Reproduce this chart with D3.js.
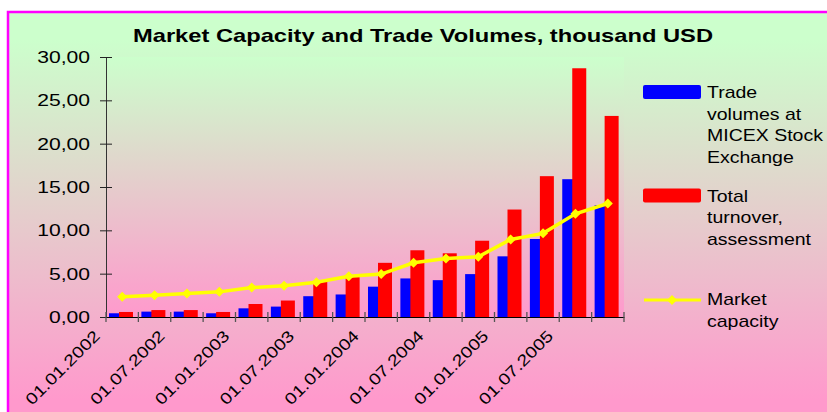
<!DOCTYPE html>
<html>
<head>
<meta charset="utf-8">
<script src="https://cdn.jsdelivr.net/npm/d3@7"></script>
<style>
  body { margin: 0; background: #fff; }
  svg text { font-family: "Liberation Sans", Arial, sans-serif; fill: #000; }
</style>
</head>
<body>
<svg id="chart" width="827" height="412"></svg>
<script>
// quarterly dates, labels shown on every second one
const categories = ['01.01.2002', '01.04.2002', '01.07.2002', '01.10.2002',
    '01.01.2003', '01.04.2003', '01.07.2003', '01.10.2003',
    '01.01.2004', '01.04.2004', '01.07.2004', '01.10.2004',
    '01.01.2005', '01.04.2005', '01.07.2005', '01.10.2005'];
const tradeVolumes = [0.43, 0.62, 0.62, 0.43, 1.0, 1.2, 2.4, 2.6, 3.5, 4.45, 4.25, 4.95, 7.0, 9.0, 15.9, 12.9];
const totalTurnover = [0.58, 0.8, 0.8, 0.58, 1.5, 1.9, 4.1, 4.6, 6.25, 7.7, 7.35, 8.8, 12.4, 16.25, 28.7, 23.2];
const marketCapacity = [2.35, 2.5, 2.7, 2.9, 3.4, 3.6, 4.0, 4.7, 4.95, 6.25, 6.75, 6.95, 8.95, 9.65, 11.9, 13.1];
const yTicks = [0, 5, 10, 15, 20, 25, 30];

const legendItems = [
    { lines: ['Trade', 'volumes at', 'MICEX Stock', 'Exchange'], color: '#0000ff', type: 'bar' },
    { lines: ['Total', 'turnover,', 'assessment'], color: '#ff0000', type: 'bar' },
    { lines: ['Market', 'capacity'], color: '#ffff00', type: 'line' }
];

const svg = d3.select('#chart');
const stretch = 1.32; // text in the picture is drawn wide

// background gradients: one for the whole chart, one for the plot area
const defs = svg.append('defs');
function addGradient(id, y1, y2) {
    const g = defs.append('linearGradient')
        .attr('id', id).attr('gradientUnits', 'userSpaceOnUse')
        .attr('x1', 0).attr('y1', y1).attr('x2', 0).attr('y2', y2);
    g.append('stop').attr('offset', '0%').attr('stop-color', '#ccffcc');
    g.append('stop').attr('offset', '100%').attr('stop-color', '#ff99cc');
}
addGradient('bg', 40, 400);
addGradient('plotbg', 57, 317);

svg.append('rect')
    .attr('x', 8).attr('y', 12)
    .attr('width', 840).attr('height', 420)
    .attr('fill', 'url(#bg)')
    .attr('stroke', '#ff00ff')
    .attr('stroke-width', 2.5);

// scales
const x = d3.scaleBand().domain(categories).range([106, 624]).padding(0);
const y = d3.scaleLinear().domain([0, 30]).range([317, 57]);
const fmt = d3.formatLocale({ decimal: ',', thousands: ' ', grouping: [3], currency: ['', ''] }).format('.2f');

svg.append('rect')
    .attr('x', x.range()[0]).attr('y', y(30))
    .attr('width', x.range()[1] - x.range()[0]).attr('height', y(0) - y(30))
    .attr('fill', 'url(#plotbg)');

// title
svg.append('text')
    .attr('x', 423).attr('y', 42)
    .attr('text-anchor', 'middle')
    .attr('font-size', 19).attr('font-weight', 'bold')
    .attr('textLength', 580).attr('lengthAdjust', 'spacingAndGlyphs')
    .text('Market Capacity and Trade Volumes, thousand USD');

// y axis
const yAxis = svg.append('g').attr('transform', 'translate(106,0)')
    .call(d3.axisLeft(y).tickValues(yTicks).tickSize(0).tickFormat(''));
yAxis.select('.domain').attr('stroke', '#333');
yAxis.selectAll('.tick line').remove();
yAxis.selectAll('.tick').append('line')
    .attr('x1', -6).attr('x2', 6).attr('stroke', '#222');
yAxis.selectAll('.tick').append('text')
    .attr('text-anchor', 'end')
    .attr('font-size', 16)
    .attr('transform', `translate(-16,5.5) scale(${stretch},1)`)
    .text(d => fmt(d));

// bars
const bw = 14;
svg.append('g').selectAll('rect')
    .data(tradeVolumes)
    .join('rect')
    .attr('x', (d, i) => x(categories[i]) + 3)
    .attr('y', d => y(d))
    .attr('width', bw)
    .attr('height', d => y(0) - y(d))
    .attr('fill', '#0000ff');

svg.append('g').selectAll('rect')
    .data(totalTurnover)
    .join('rect')
    .attr('x', (d, i) => x(categories[i]) + 13)
    .attr('y', d => y(d))
    .attr('width', bw)
    .attr('height', d => y(0) - y(d))
    .attr('fill', '#ff0000');

// x axis
const xAxis = svg.append('g').attr('transform', `translate(0,${y(0)})`)
    .call(d3.axisBottom(x).tickSize(0).tickFormat(''));
xAxis.select('.domain').attr('stroke', '#000').attr('stroke-width', 1.2);
xAxis.selectAll('.tick').remove();
const bounds = categories.map(c => x(c)).concat([x.range()[1]]);
xAxis.selectAll('line.cat')
    .data(bounds)
    .join('line')
    .attr('class', 'cat')
    .attr('x1', d => d).attr('x2', d => d)
    .attr('y1', -5).attr('y2', 5)
    .attr('stroke', '#555').attr('stroke-width', 1.3);

svg.append('g').selectAll('text')
    .data(categories.filter((c, i) => i % 2 === 0))
    .join('text')
    .attr('text-anchor', 'end')
    .attr('font-size', 16)
    .attr('transform', d => `translate(${x(d) - 5},337) rotate(-45) scale(1.22,1)`)
    .text(d => d);

// market capacity line
const line = d3.line()
    .x((d, i) => x(categories[i]) + x.bandwidth() / 2)
    .y(d => y(d));
svg.append('path')
    .datum(marketCapacity)
    .attr('d', line)
    .attr('fill', 'none')
    .attr('stroke', '#ffff00')
    .attr('stroke-width', 3.5);

const diamond = d3.symbol().type(d3.symbolSquare).size(50);
svg.append('g').selectAll('path')
    .data(marketCapacity)
    .join('path')
    .attr('d', diamond)
    .attr('transform', (d, i) => `translate(${x(categories[i]) + x.bandwidth() / 2},${y(d)}) rotate(45)`)
    .attr('fill', '#ffff00');

// legend
const legendTop = [98, 201.5, 305];
legendItems.forEach((item, k) => {
    const g = svg.append('g');
    const base = legendTop[k];
    if (item.type === 'bar') {
        g.append('rect')
            .attr('x', 643).attr('y', base - 13)
            .attr('width', 58).attr('height', 14)
            .attr('rx', 2)
            .attr('fill', item.color);
    } else {
        g.append('line')
            .attr('x1', 644).attr('x2', 701)
            .attr('y1', base - 5).attr('y2', base - 5)
            .attr('stroke', item.color).attr('stroke-width', 3);
        g.append('path')
            .attr('d', diamond)
            .attr('transform', `translate(672,${base - 5}) rotate(45)`)
            .attr('fill', item.color);
    }
    item.lines.forEach((t, j) => {
        g.append('text')
            .attr('font-size', 16)
            .attr('transform', `translate(707,${base + j * 21.7}) scale(1.22,1)`)
            .text(t);
    });
});
</script>
</body>
</html>
